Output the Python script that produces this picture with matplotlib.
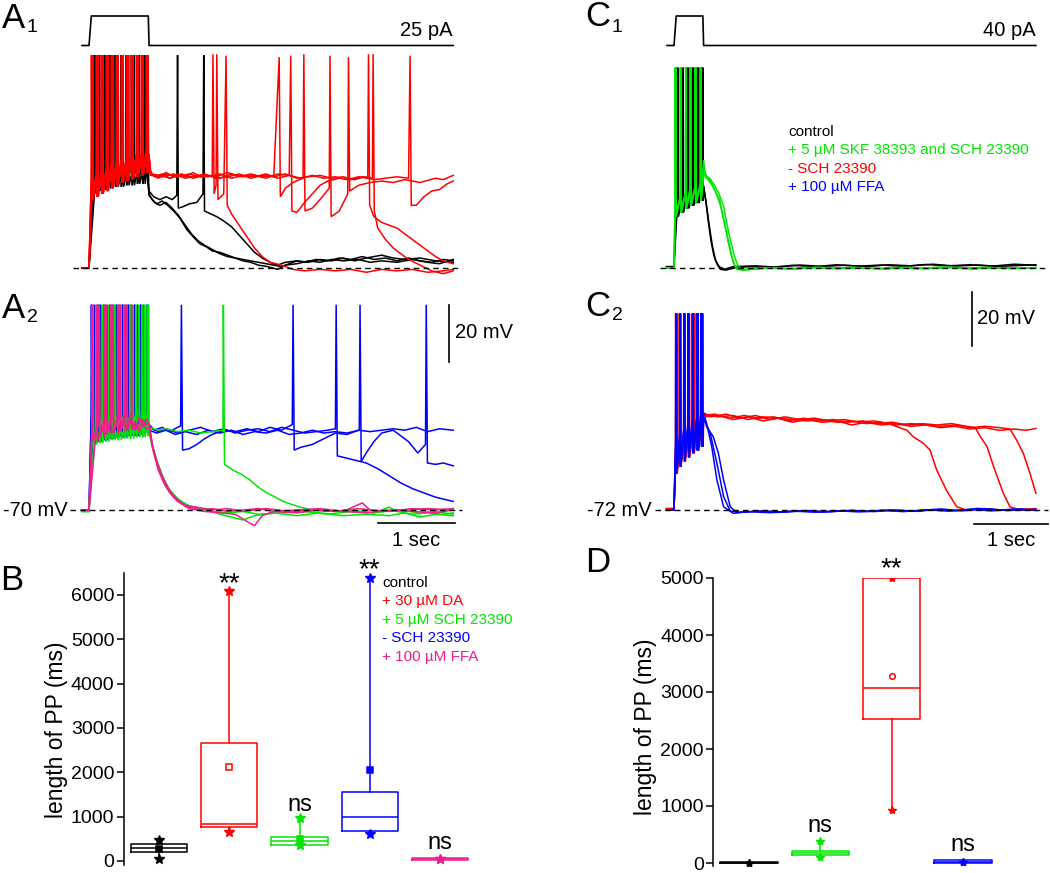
import matplotlib.pyplot as plt

plt.rcParams['font.family'] = ['Liberation Sans', 'DejaVu Sans']

W, H = 1050, 873

RED = '#ff0000'
GREEN = '#00e600'
BLUE = '#0000ff'
PINK = '#ee1f8c'
BLACK = '#000000'

# ---------------- stimulus (s, pA) ----------------
stimA_t = [-0.09, 0.0, 0.03, 0.77, 0.78, 4.73]
stimA_i = [0, 0, 25, 25, 0, 0]
stimC_t = [-0.095, 0.0, 0.03, 0.39, 0.40, 4.89]
stimC_i = [0, 0, 40, 40, 0, 0]

# ---------------- A1 : control (black) vs + 30 uM DA (red) ----------------
a1_peak = 4.7
a1_black_troughs = [-44, -43, -42.5, -42, -41.5, -41.5, -41, -41, -40.5, -40.5, -40]
a1_black_bursts = [
    [0.06, 0.13, 0.20, 0.27, 0.34, 0.41, 0.48, 0.55, 0.62, 0.69, 0.755],
    [0.09, 0.16, 0.23, 0.30, 0.37, 0.44, 0.51, 0.58, 0.65, 0.72, 0.765],
    [0.06, 0.13, 0.20, 0.27, 0.34, 0.41, 0.48, 0.55, 0.62, 0.69, 0.76],
]
a1_black_tails = [
    [(0.78, -44), (0.82, -46), (0.88, -47.5), (0.95, -46.5), (1.02, -48), (1.1, -50), (1.18, -52.5),
     (1.27, -56.5), (1.35, -59), (1.44, -61.5), (1.52, -62.5), (1.6, -64), (1.7, -64.5), (1.8, -65.5),
     (1.9, -66.5), (2.0, -67), (2.1, -67.5), (2.2, -68), (2.3, -68.5), (2.4, -69), (2.5, -69.5),
     (2.6, -68.5), (2.7, -67.5), (2.8, -68), (2.95, -67), (3.1, -67.5), (3.25, -66.5), (3.4, -67),
     (3.55, -66), (3.7, -67), (3.85, -66.5), (4.0, -67.5), (4.15, -66.5), (4.3, -67.5), (4.45, -68),
     (4.6, -67), (4.73, -67.5)],
    [(0.78, -43), (0.84, -45), (0.92, -46), (1.0, -45), (1.08, -46), (1.14, -44.5), (1.15, 4.7),
     (1.16, -49), (1.22, -48.5), (1.3, -47.5), (1.4, -47), (1.48, -44), (1.49, 4.7), (1.50, -50),
     (1.58, -51), (1.66, -52), (1.75, -53.5), (1.85, -55.5), (1.95, -58.5), (2.05, -61.5),
     (2.15, -64.5), (2.25, -66.5), (2.35, -68), (2.45, -69), (2.55, -68), (2.7, -67.5), (2.85, -68),
     (3.0, -67), (3.15, -67.5), (3.3, -66.5), (3.45, -67.5), (3.6, -66.5), (3.8, -65.5), (3.95, -66.5),
     (4.1, -67), (4.3, -66.5), (4.5, -67.5), (4.73, -68)],
    [(0.78, -44.5), (0.85, -47), (0.92, -48), (1.0, -47), (1.08, -49), (1.16, -51.5), (1.25, -55),
     (1.33, -58), (1.42, -60.5), (1.5, -62), (1.6, -63.5), (1.7, -65), (1.8, -66), (1.9, -66.5),
     (2.0, -67.5), (2.1, -68), (2.2, -69), (2.32, -69.5), (2.45, -70.5), (2.55, -69), (2.7, -68.5),
     (2.85, -67.5), (3.0, -68), (3.15, -67), (3.3, -67.5), (3.5, -67), (3.65, -68), (3.8, -67.5),
     (4.0, -68), (4.2, -67), (4.4, -68), (4.55, -68.5), (4.73, -67)],
]
a1_red_troughs = [-46, -45, -44, -43, -42, -41, -40, -39.5, -39, -38, -37.5, -36.5]
a1_red_bursts = [
    [0.03, 0.095, 0.16, 0.225, 0.29, 0.355, 0.42, 0.485, 0.55, 0.615, 0.68, 0.745],
    [0.045, 0.11, 0.175, 0.24, 0.305, 0.37, 0.435, 0.50, 0.565, 0.63, 0.695, 0.76],
    [0.03, 0.095, 0.16, 0.225, 0.29, 0.355, 0.42, 0.485, 0.55, 0.615, 0.68, 0.745],
    [0.045, 0.11, 0.175, 0.24, 0.305, 0.37, 0.435, 0.50, 0.565, 0.63, 0.695, 0.76],
    [0.035, 0.10, 0.165, 0.23, 0.295, 0.36, 0.425, 0.49, 0.555, 0.62, 0.685, 0.75],
]
a1_red_tails = [
    [(0.78, -30), (0.8, -36), (0.85, -38), (0.95, -37), (1.05, -38.5), (1.15, -37), (1.25, -38),
     (1.35, -36.5), (1.45, -38), (1.55, -37.5), (1.7, -38.5), (1.85, -37), (2.0, -38), (2.15, -37.5),
     (2.3, -38.5), (2.45, -37), (2.6, -37.5), (2.62, 4.5), (2.635, -50), (2.7, -50.5), (2.8, -47),
     (2.9, -44), (3.0, -41), (3.1, -39.5), (3.25, -38.5), (3.4, -39), (3.55, -38), (3.7, -39),
     (3.85, -38.5), (4.0, -38), (4.15, -38.5), (4.17, 4.5), (4.185, -48), (4.25, -48), (4.35, -45),
     (4.45, -43), (4.55, -42.5), (4.65, -40.5), (4.73, -39.5)],
    [(0.78, -31), (0.8, -37), (0.9, -38), (1.0, -36.5), (1.1, -38), (1.2, -37), (1.35, -38.5),
     (1.5, -37.5), (1.65, -38), (1.8, -36.5), (1.95, -38), (2.1, -37), (2.25, -38), (2.4, -37.5),
     (2.47, 4), (2.485, -45), (2.55, -42), (2.65, -40), (2.78, -38.5), (2.79, 5), (2.805, -50),
     (2.9, -49), (3.0, -46), (3.12, -42), (3.13, 4.5), (3.145, -52), (3.25, -50), (3.36, -44),
     (3.37, 4), (3.385, -43), (3.5, -41), (3.65, -40), (3.8, -39.5), (3.95, -40), (4.1, -39),
     (4.3, -40), (4.5, -38.5), (4.6, -39), (4.73, -37.5)],
    [(0.78, -32), (0.8, -37), (0.9, -38.5), (1.0, -37), (1.15, -38), (1.3, -37), (1.45, -38),
     (1.6, -37.5), (1.61, 5), (1.625, -44), (1.65, -41), (1.66, 5), (1.675, -46), (1.75, -44),
     (1.78, 4.5), (1.795, -48), (1.85, -51), (1.95, -55), (2.05, -59), (2.15, -63), (2.25, -66),
     (2.35, -68), (2.5, -69), (2.65, -70.5), (2.8, -71), (3.0, -70.5), (3.2, -71), (3.4, -70.5),
     (3.6, -71.5), (3.8, -70.5), (4.0, -71), (4.2, -70.5), (4.4, -71.5), (4.6, -71), (4.73, -70.5)],
    [(0.78, -33), (0.8, -37.5), (0.95, -38), (1.1, -37), (1.25, -38.5), (1.4, -37.5), (1.55, -38),
     (1.7, -37), (1.85, -38.5), (2.0, -37.5), (2.15, -38), (2.3, -37), (2.45, -38.5), (2.6, -37.5),
     (2.75, -38.5), (2.9, -37.5), (3.05, -38.5), (3.2, -38), (3.35, -39), (3.5, -38), (3.62, -38.5),
     (3.63, 5), (3.645, -48), (3.7, -52), (3.8, -54), (3.9, -55), (4.0, -56), (4.1, -58), (4.2, -60),
     (4.3, -62), (4.4, -64), (4.5, -66), (4.6, -67.5), (4.73, -68.5)],
    [(0.78, -31), (0.8, -37), (0.92, -37.5), (1.05, -38.5), (1.2, -37.5), (1.35, -38), (1.5, -37),
     (1.65, -38.5), (1.8, -38), (1.95, -37), (2.1, -38.5), (2.25, -37.5), (2.4, -38), (2.55, -37),
     (2.7, -38.5), (2.85, -38), (3.0, -37.5), (3.15, -38.5), (3.3, -38), (3.45, -39), (3.58, -38),
     (3.68, -38.5), (3.69, 5), (3.705, -50), (3.75, -56), (3.85, -60), (3.95, -63), (4.05, -65),
     (4.15, -67), (4.3, -69), (4.45, -71), (4.6, -72), (4.73, -71)],
]

# ---------------- A2 : - SCH (blue), + SCH (green), + FFA (pink) ----------------
a2_peak = 2.0
a2_blue_troughs = [-47, -46, -45.5, -45, -44.5, -44.5, -44, -44, -43.5, -43]
a2_blue_bursts = [
    [0.03, 0.11, 0.19, 0.27, 0.35, 0.43, 0.51, 0.59, 0.67, 0.75],
    [0.07, 0.15, 0.23, 0.31, 0.39, 0.47, 0.55, 0.63, 0.71, 0.765],
    [0.03, 0.11, 0.19, 0.27, 0.35, 0.43, 0.51, 0.59, 0.67, 0.75],
]
a2_blue_tails = [
    [(0.78, -40), (0.85, -42), (0.95, -41), (1.05, -42.5), (1.15, -41), (1.19, -40.5), (1.20, 2),
     (1.215, -49), (1.3, -48.5), (1.4, -47), (1.5, -45), (1.6, -43.5), (1.75, -42), (1.9, -42.5),
     (2.05, -41.5), (2.2, -42.5), (2.35, -41), (2.5, -42), (2.64, -40), (2.65, 2), (2.665, -49),
     (2.75, -48), (2.9, -47), (3.05, -45), (3.2, -43), (3.35, -43.5), (3.5, -42), (3.65, -42.5),
     (3.8, -42), (3.95, -41.5), (4.1, -42), (4.25, -41), (4.4, -42.5), (4.55, -41.5), (4.73, -42)],
    [(0.78, -41), (0.9, -42.5), (1.0, -41.5), (1.15, -43), (1.3, -42), (1.45, -41), (1.6, -42.5),
     (1.75, -41.5), (1.9, -43), (2.05, -42), (2.2, -41.5), (2.35, -42.5), (2.5, -41), (2.65, -42),
     (2.8, -43), (2.95, -42.5), (3.1, -42), (3.2, -41.5), (3.21, 2), (3.225, -51), (3.3, -51.5),
     (3.45, -52.5), (3.6, -53.5), (3.75, -55.5), (3.9, -58), (4.05, -60.5), (4.2, -62.5),
     (4.35, -64), (4.5, -65.5), (4.73, -67)],
    [(0.78, -42), (0.88, -43), (1.0, -42), (1.12, -43.5), (1.25, -42.5), (1.4, -43.5), (1.55, -42),
     (1.7, -43), (1.85, -42), (2.0, -43.5), (2.15, -42.5), (2.3, -43), (2.45, -42), (2.6, -43.5),
     (2.75, -43), (2.9, -42), (3.05, -43), (3.2, -42.5), (3.35, -43), (3.51, -42), (3.52, 2),
     (3.535, -53), (3.6, -50), (3.7, -46), (3.8, -43), (3.95, -42), (4.05, -44), (4.15, -46),
     (4.27, -50), (4.37, -47), (4.38, 2), (4.395, -53.5), (4.5, -54), (4.6, -53.5), (4.73, -54.5)],
]
a2_green_troughs = [-47, -46.5, -46, -45.5, -45.5, -45, -45, -44.5, -44.5, -44]
a2_green_bursts = [
    [0.05, 0.13, 0.21, 0.29, 0.37, 0.45, 0.53, 0.61, 0.69, 0.755],
    [0.09, 0.17, 0.25, 0.33, 0.41, 0.49, 0.57, 0.65, 0.72, 0.77],
    [0.05, 0.13, 0.21, 0.29, 0.37, 0.45, 0.53, 0.61, 0.69, 0.76],
]
a2_green_tails = [
    [(0.78, -42), (0.82, -48), (0.88, -53), (0.95, -58), (1.02, -62), (1.1, -65), (1.2, -67),
     (1.3, -68.5), (1.45, -69.5), (1.6, -70.5), (1.8, -71), (2.0, -70.5), (2.2, -71.5), (2.5, -71),
     (2.8, -70.5), (3.1, -71.5), (3.4, -70.5), (3.7, -71), (3.9, -69), (4.0, -70.5), (4.2, -71.5),
     (4.4, -71), (4.6, -71.5), (4.73, -71)],
    [(0.78, -43), (0.84, -49), (0.9, -54), (0.97, -59), (1.05, -63), (1.15, -66), (1.25, -68),
     (1.4, -69.5), (1.55, -70), (1.7, -71.5), (1.85, -72.5), (2.0, -73.5), (2.15, -72), (2.4, -71),
     (2.7, -72), (3.0, -71), (3.3, -72), (3.6, -71.5), (3.9, -72), (4.1, -71), (4.3, -72.5),
     (4.5, -71.5), (4.73, -72)],
    [(0.78, -41), (0.9, -42), (1.0, -41.5), (1.15, -42.5), (1.3, -42), (1.45, -43), (1.6, -42.5),
     (1.74, -42), (1.745, 2), (1.76, -54), (1.87, -56), (1.98, -57.5), (2.09, -59.5), (2.2, -62),
     (2.31, -64), (2.42, -65.5), (2.52, -67), (2.63, -68), (2.74, -69), (2.9, -70), (3.1, -70.5),
     (3.4, -70), (3.7, -71), (4.0, -70), (4.3, -71), (4.5, -70.5), (4.73, -71.5)],
]
a2_pink_troughs = [-46, -44.5, -43.5, -43, -42.5, -42]
a2_pink_bursts = [
    [0.04, 0.13, 0.22, 0.31, 0.40, 0.49],
    [0.10, 0.19, 0.28, 0.37, 0.46, 0.55],
    [0.04, 0.13, 0.22, 0.31, 0.40, 0.49],
]
a2_pink_tails = [
    [(0.55, -38), (0.6, -42), (0.65, -37.5), (0.7, -41), (0.75, -38), (0.78, -40), (0.82, -47),
     (0.88, -53), (0.95, -58), (1.02, -62), (1.1, -65), (1.2, -67.5), (1.3, -69), (1.45, -70),
     (1.6, -69.5), (1.8, -70.5), (2.0, -70), (2.2, -69.5), (2.4, -70.5), (2.7, -70), (3.0, -69.5),
     (3.3, -70.5), (3.55, -67.5), (3.65, -70), (3.9, -70.5), (4.2, -69.5), (4.5, -70), (4.73, -69.5)],
    [(0.6, -39), (0.65, -42.5), (0.7, -38.5), (0.74, -41.5), (0.78, -41), (0.84, -50), (0.9, -56),
     (0.98, -61), (1.05, -64), (1.15, -67), (1.3, -69.5), (1.5, -70.5), (1.7, -71), (1.9, -71.5),
     (2.05, -74), (2.15, -75.5), (2.25, -72), (2.4, -70.5), (2.7, -71), (3.0, -70), (3.3, -70.5),
     (3.6, -71), (3.9, -70), (4.2, -70.5), (4.5, -71), (4.73, -70)],
    [(0.55, -38.5), (0.62, -41.5), (0.68, -38), (0.74, -40), (0.78, -39.5), (0.83, -48), (0.89, -54.5),
     (0.96, -59.5), (1.04, -63.5), (1.12, -66), (1.25, -68.5), (1.4, -69), (1.6, -70), (1.8, -69.5),
     (2.0, -70.5), (2.3, -69.5), (2.6, -70.5), (2.9, -70), (3.2, -70.5), (3.5, -69.5), (3.8, -70.5),
     (4.1, -70), (4.4, -69.5), (4.73, -70)],
]

# ---------------- C1 : control (black) vs + SKF and SCH (green) ----------------
c1_peak = 2.2
c1_troughs = [-53, -51.5, -50, -49, -48, -47]
c1_black_bursts = [
    [0.03, 0.10, 0.17, 0.24, 0.31, 0.38],
    [0.05, 0.12, 0.19, 0.26, 0.33, 0.385],
]
c1_black_tails = [
    [(0.40, -41.5), (0.43, -47), (0.46, -54), (0.50, -62), (0.54, -67.5), (0.58, -70.5), (0.63, -72.5),
     (0.7, -72.8), (0.8, -72), (1.0, -71.5), (1.3, -71.8), (1.6, -71), (1.9, -71.5), (2.2, -70.8),
     (2.5, -71.3), (2.8, -70.9), (3.1, -71.4), (3.4, -70.7), (3.7, -71.2), (4.0, -70.8), (4.3, -71.3),
     (4.6, -70.6), (4.89, -71)],
    [(0.40, -42), (0.44, -49), (0.48, -57), (0.52, -64), (0.56, -69), (0.61, -71.5), (0.68, -72.5),
     (0.8, -71.5), (1.1, -71.2), (1.4, -71.7), (1.7, -70.9), (2.0, -71.4), (2.3, -71), (2.6, -71.5),
     (2.9, -70.8), (3.2, -71.2), (3.5, -70.6), (3.8, -71.3), (4.1, -70.9), (4.4, -71.4), (4.89, -70.8)],
]
c1_green_bursts = [
    [0.015, 0.085, 0.155, 0.215, 0.285, 0.355],
    [0.02, 0.09, 0.16, 0.225, 0.29, 0.36],
    [0.015, 0.085, 0.155, 0.215, 0.285, 0.355],
]
c1_green_tails = [
    [(0.40, -32), (0.42, -37.5), (0.46, -38.5), (0.50, -40), (0.55, -43), (0.62, -47), (0.66, -53),
     (0.71, -59), (0.76, -65), (0.80, -70), (0.85, -72.5), (0.95, -72.8), (1.2, -72), (1.5, -72.3),
     (1.8, -71.8), (2.1, -72.2), (2.4, -71.7), (2.7, -72.2), (3.0, -71.8), (3.3, -72.3), (3.6, -71.6),
     (3.9, -72.1), (4.2, -71.7), (4.5, -72.2), (4.89, -71.8)],
    [(0.41, -36), (0.44, -38), (0.49, -39), (0.54, -41), (0.60, -44), (0.67, -49), (0.71, -55),
     (0.76, -61.5), (0.81, -67), (0.86, -71), (0.92, -72.6), (1.05, -72.2), (1.35, -71.9),
     (1.65, -72.3), (1.95, -71.7), (2.25, -72.1), (2.55, -71.9), (2.85, -72.4), (3.15, -71.8),
     (3.45, -72.2), (3.75, -71.7), (4.05, -72.3), (4.35, -71.9), (4.89, -72.1)],
    [(0.40, -34), (0.43, -38.5), (0.48, -40), (0.53, -42), (0.58, -45), (0.64, -50), (0.69, -56),
     (0.73, -62), (0.77, -67), (0.82, -71), (0.88, -72.5), (1.0, -72.6), (1.3, -72), (1.6, -72.4),
     (1.9, -71.8), (2.2, -72.3), (2.5, -71.9), (2.8, -72.3), (3.1, -71.7), (3.4, -72.2), (3.7, -71.8),
     (4.0, -72.3), (4.3, -71.9), (4.6, -72.2), (4.89, -72)],
]

# ---------------- C2 : - SCH (red) vs + FFA (blue) ----------------
c2_peak = 0.8
c2_troughs = [-58.5, -56, -54, -52.5, -51, -50, -48.5]
c2_red_bursts = [
    [0.02, 0.07, 0.13, 0.19, 0.25, 0.31, 0.37],
    [0.03, 0.08, 0.14, 0.20, 0.26, 0.32, 0.38],
    [0.025, 0.075, 0.135, 0.195, 0.255, 0.315, 0.375],
    [0.035, 0.085, 0.145, 0.205, 0.265, 0.325, 0.385],
]
c2_red_tails = [
    [(0.40, -36), (0.5, -37.5), (0.7, -36.5), (0.9, -38), (1.1, -37), (1.3, -38.5), (1.5, -37.5),
     (1.7, -38.5), (1.9, -38), (2.1, -39), (2.3, -38.5), (2.5, -39.5), (2.7, -39), (2.9, -40),
     (3.05, -41.5), (3.15, -42.5), (3.23, -44.8), (3.37, -47.3), (3.46, -49.8), (3.55, -57.2),
     (3.68, -64.6), (3.82, -70.8), (3.95, -72), (4.2, -71.5), (4.5, -72.2), (4.89, -71.8)],
    [(0.40, -37), (0.55, -36.5), (0.75, -38), (0.95, -37), (1.15, -38), (1.35, -37.5), (1.55, -39),
     (1.75, -38), (1.95, -39), (2.15, -38.5), (2.35, -39.5), (2.55, -39), (2.75, -40), (2.95, -39.5),
     (3.15, -40.5), (3.35, -40), (3.55, -40.5), (3.75, -40), (3.95, -41), (4.07, -41.5), (4.14, -44.8),
     (4.23, -48.5), (4.32, -56), (4.45, -65.8), (4.54, -70.8), (4.65, -71.8), (4.89, -71.5)],
    [(0.40, -36.5), (0.6, -37.5), (0.8, -37), (1.0, -38.5), (1.2, -37.5), (1.4, -38), (1.6, -38.5),
     (1.8, -39), (2.0, -38.5), (2.2, -39.5), (2.4, -39), (2.6, -40), (2.8, -39.5), (3.0, -40.5),
     (3.2, -40), (3.4, -40.5), (3.6, -41), (3.8, -40.5), (4.0, -41.5), (4.2, -41), (4.4, -41.5),
     (4.54, -42), (4.63, -46.1), (4.72, -51), (4.81, -58.4), (4.89, -65.8)],
    [(0.40, -37.5), (0.6, -37), (0.8, -38.5), (1.0, -37.5), (1.2, -39), (1.4, -38), (1.6, -39.5),
     (1.8, -38.5), (2.0, -39.5), (2.2, -39), (2.4, -40.5), (2.6, -39.5), (2.8, -40.5), (3.0, -40),
     (3.2, -41), (3.4, -40.5), (3.6, -41.5), (3.8, -41), (4.0, -42), (4.2, -41.5), (4.4, -42.5),
     (4.6, -42), (4.75, -42.5), (4.89, -41.8)],
]
c2_blue_bursts = [
    [0.02, 0.075, 0.13, 0.185, 0.245, 0.30, 0.36],
    [0.03, 0.085, 0.14, 0.195, 0.255, 0.31, 0.37],
    [0.025, 0.08, 0.135, 0.19, 0.25, 0.32, 0.38],
]
c2_blue_tails = [
    [(0.40, -36.2), (0.44, -39.9), (0.51, -48.5), (0.58, -60.9), (0.67, -70.8), (0.80, -73.2),
     (1.0, -72.6), (1.3, -73), (1.6, -72.4), (1.9, -72.8), (2.2, -72.3), (2.5, -72.7), (2.8, -72.1),
     (3.1, -72.6), (3.4, -71.9), (3.7, -72.4), (4.0, -71.8), (4.3, -72.3), (4.6, -71.7), (4.89, -72)],
    [(0.40, -38), (0.49, -43.6), (0.58, -54.7), (0.67, -67), (0.76, -72.4), (0.9, -72.8),
     (1.2, -72.3), (1.5, -72.8), (1.8, -72.2), (2.1, -72.7), (2.4, -72.1), (2.7, -72.6), (3.0, -72),
     (3.3, -72.5), (3.6, -71.6), (3.9, -72.3), (4.2, -71.5), (4.5, -72.1), (4.89, -71.8)],
    [(0.40, -37), (0.44, -41.1), (0.53, -44.8), (0.60, -51), (0.67, -60.9), (0.76, -70.8),
     (0.85, -73), (1.1, -72.5), (1.4, -72.9), (1.7, -72.3), (2.0, -72.8), (2.3, -72.2), (2.6, -72.6),
     (2.9, -72), (3.2, -72.5), (3.5, -71.8), (3.8, -72.3), (4.1, -71.4), (4.4, -72), (4.7, -71.6),
     (4.89, -72.2)],
]

# ---------------- B / D : length of PP (ms) ----------------
b_colors = [BLACK, RED, GREEN, BLUE, PINK]
b_q1 = [194, 760, 361, 677, 30]
b_med = [283, 835, 458, 985, 45]
b_q3 = [374, 2654, 549, 1564, 60]
b_lo = [45, 647, 361, 609, 45]
b_hi = [474, 6097, 963, 6391, 45]
b_mean = [260, 2113, 503, 2053, None]
b_legend = ['control', '+ 30 µM DA', '+ 5 µM SCH 23390', '- SCH 23390', '+ 100 µM FFA']
b_marks = [(2, 6250, '**'), (3, 1263, 'ns'), (4, 6560, '**'), (5, 406, 'ns')]

d_colors = [BLACK, GREEN, RED, BLUE]
d_q1 = [0, 146, 2521, 0]
d_med = [8, 180, 3070, 25]
d_q3 = [15, 216, 5000, 45]
d_lo = [8, 111, 930, 25]
d_hi = [8, 386, 5000, 25]
d_mean = [None, None, 3275, None]
c_legend = ['control', '+ 5 µM SKF 38393 and SCH 23390', '- SCH 23390', '+ 100 µM FFA']
c_legend_colors = [BLACK, GREEN, RED, BLUE]
d_marks = [(2, 649, 'ns'), (3, 5150, '**'), (4, 316, 'ns')]


fig = plt.figure(figsize=(W / 100, H / 100), dpi=100)


def panel(x0, x1, y0, y1, xz, xs, vref, yref, ys):
    # place an axes by pixel box; time zero at pixel xz, xs px per unit,
    # value vref at pixel yref, ys px per unit
    ax = fig.add_axes([x0 / W, 1 - y1 / H, (x1 - x0) / W, (y1 - y0) / H])
    ax.set_xlim((x0 - xz) / xs, (x1 - xz) / xs)
    ax.set_ylim(vref + (yref - y1) / ys, vref + (yref - y0) / ys)
    ax.axis('off')
    return ax


def ftext(x, y, s, **kw):
    fig.text(x / W, 1 - y / H, s, **kw)


def trace(ax, base, t0, burst, troughs, gap, peak, tail, color):
    ts, vs = [t0, 0.0], [base, base]
    for t, tr in zip(burst, troughs):
        ts += [t, t + 0.003, t + 0.009]
        vs += [tr + gap, peak, tr]
    for t, v in tail:
        ts.append(t)
        vs.append(v)
    ax.plot(ts, vs, color=color, lw=1.1, solid_joinstyle='miter')


def baseline(ax, t0, t1, v):
    ax.plot([t0, t1], [v, v], color='black', lw=1.0, ls=(0, (4, 3)), zorder=10)


# stimulus traces
sA = panel(60, 470, 5, 55, 89, 77, 0, 45.5, 29.5 / 25)
sA.plot(stimA_t, stimA_i, color='black', lw=1.2)
sC = panel(650, 1050, 5, 55, 674, 74, 0, 45.5, 29.5 / 40)
sC.plot(stimC_t, stimC_i, color='black', lw=1.2)
ftext(453, 30, '25 pA', ha='right', va='center', fontsize=14.5)
ftext(1036, 30, '40 pA', ha='right', va='center', fontsize=14.5)

# A1
a1 = panel(60, 470, 48, 285, 89, 77, -70, 268, 2.85)
for burst, tail in zip(a1_black_bursts, a1_black_tails):
    trace(a1, -70, -0.09, burst, a1_black_troughs, 7, a1_peak, tail, BLACK)
for burst, tail in zip(a1_red_bursts, a1_red_tails):
    trace(a1, -70, -0.08, burst, a1_red_troughs, 8, a1_peak, tail, RED)
baseline(a1, -0.21, 4.84, -70)

# A2
a2 = panel(60, 470, 295, 535, 89, 77, -70, 510, 2.85)
for burst, tail in zip(a2_blue_bursts, a2_blue_tails):
    trace(a2, -70, -0.09, burst, a2_blue_troughs, 11, a2_peak, tail, BLUE)
for burst, tail in zip(a2_green_bursts, a2_green_tails):
    trace(a2, -70.5, -0.09, burst, a2_green_troughs, 8, a2_peak, tail, GREEN)
for burst, tail in zip(a2_pink_bursts, a2_pink_tails):
    trace(a2, -70, -0.09, burst, a2_pink_troughs, 6, a2_peak, tail, PINK)
baseline(a2, -0.25, 4.84, -70)
a2.plot([4.675, 4.675], [-18, 2], color='black', lw=1.2)
a2.plot([3.75, 4.75], [-74.6, -74.6], color='black', lw=1.2)
ftext(455, 333, '20 mV', ha='left', va='center', fontsize=14.5)
ftext(416, 540, '1 sec', ha='center', va='center', fontsize=14.5)
ftext(68, 510, '-70 mV', ha='right', va='center', fontsize=14.5)

# C1
c1 = panel(650, 1050, 60, 285, 674, 74, -72, 268, 2.7)
for burst, tail in zip(c1_black_bursts, c1_black_tails):
    trace(c1, -71.5, -0.1, burst, c1_troughs, 6, c1_peak, tail, BLACK)
for burst, tail in zip(c1_green_bursts, c1_green_tails):
    trace(c1, -72, -0.1, burst, c1_troughs, 6, c1_peak, tail, GREEN)
baseline(c1, -0.19, 5.05, -72)
for i, (s, col) in enumerate(zip(c_legend, c_legend_colors)):
    ftext(788, 132 + 18.3 * i, s, ha='left', va='center', fontsize=11, color=col)

# C2
c2 = panel(650, 1050, 290, 535, 674, 74, -72, 510, 2.7)
for burst, tail in zip(c2_red_bursts, c2_red_tails):
    trace(c2, -71.5, -0.1, burst, c2_troughs, 10, c2_peak, tail, RED)
for burst, tail in zip(c2_blue_bursts, c2_blue_tails):
    trace(c2, -72, -0.1, burst, c2_troughs, 12, c2_peak, tail, BLUE)
baseline(c2, -0.26, 5.05, -72)
c2.plot([4.03, 4.03], [-11.3, 8.7], color='black', lw=1.2)
c2.plot([4.05, 5.05], [-77.2, -77.2], color='black', lw=1.2)
ftext(977, 318, '20 mV', ha='left', va='center', fontsize=14.5)
ftext(1011, 540, '1 sec', ha='center', va='center', fontsize=14.5)
ftext(652, 510, '-72 mV', ha='right', va='center', fontsize=14.5)


def boxes(ax, colors, q1, med, q3, lo, hi, mean, mean_marker, star):
    for i, col in enumerate(colors):
        st = dict(q1=q1[i], med=med[i], q3=q3[i], whislo=lo[i], whishi=hi[i], fliers=[])
        ax.bxp([st], positions=[i + 1], widths=0.8, showcaps=False, showfliers=False,
               boxprops=dict(color=col, lw=1.1), medianprops=dict(color=col, lw=1.1),
               whiskerprops=dict(color=col, lw=1.1))
        ax.plot([i + 1, i + 1], [lo[i], hi[i]], ls='none', marker='*', ms=star, color=col)
        if mean[i] is not None:
            face = 'white' if col == RED else col
            ax.plot([i + 1], [mean[i]], ls='none', marker=mean_marker, ms=4, mfc=face,
                    mec=col, mew=1.1)


def style_box_axes(ax, ticks):
    for s in ['top', 'right', 'bottom']:
        ax.spines[s].set_visible(False)
    ax.spines['left'].set_linewidth(1.1)
    ax.set_xticks([])
    ax.set_yticks(ticks)
    ax.tick_params(axis='y', direction='out', length=5, width=1.1, labelsize=14, pad=2)
    ax.set_ylabel('length of PP (ms)', fontsize=16.5)


# B
axB = fig.add_axes([124 / W, 1 - 865.4 / H, 351 / W, 292.6 / H])
axB.set_xlim(0.5, 5.5)
axB.set_ylim(-100, 6500)
boxes(axB, b_colors, b_q1, b_med, b_q3, b_lo, b_hi, b_mean, 's', 7)
style_box_axes(axB, range(0, 6001, 1000))
axB.yaxis.set_label_coords(-0.16, 0.463)
for pos, y, s in b_marks:
    axB.text(pos, y, s, ha='center', va='center', fontsize=20 if s == '**' else 17, clip_on=False)
for i, (s, col) in enumerate(zip(b_legend, b_colors)):
    ftext(382, 583 + 18.5 * i, s, ha='left', va='center', fontsize=11, color=col)

# D
axD = fig.add_axes([713.35 / W, 1 - 865.85 / H, 285.3 / W, 287.85 / H])
axD.set_xlim(0.5, 4.5)
axD.set_ylim(-50, 5000)
boxes(axD, d_colors, d_q1, d_med, d_q3, d_lo, d_hi, d_mean, 'o', 6)
style_box_axes(axD, range(0, 5001, 1000))
axD.yaxis.set_label_coords(-0.196, 0.482)
for pos, y, s in d_marks:
    axD.text(pos, y, s, ha='center', va='center', fontsize=20 if s == '**' else 17, clip_on=False)

# panel letters
for x, y, letter, sub in [(13, 18, 'A', '1'), (13, 308, 'A', '2'), (598, 17, 'C', '1'),
                          (598, 306, 'C', '2')]:
    ftext(x, y, letter, ha='center', va='center', fontsize=25)
    ftext(x + 19, y + 10, sub, ha='center', va='center', fontsize=14)
ftext(12, 580, 'B', ha='center', va='center', fontsize=25)
ftext(598, 562, 'D', ha='center', va='center', fontsize=25)

fig.savefig('out.png', dpi=100)
